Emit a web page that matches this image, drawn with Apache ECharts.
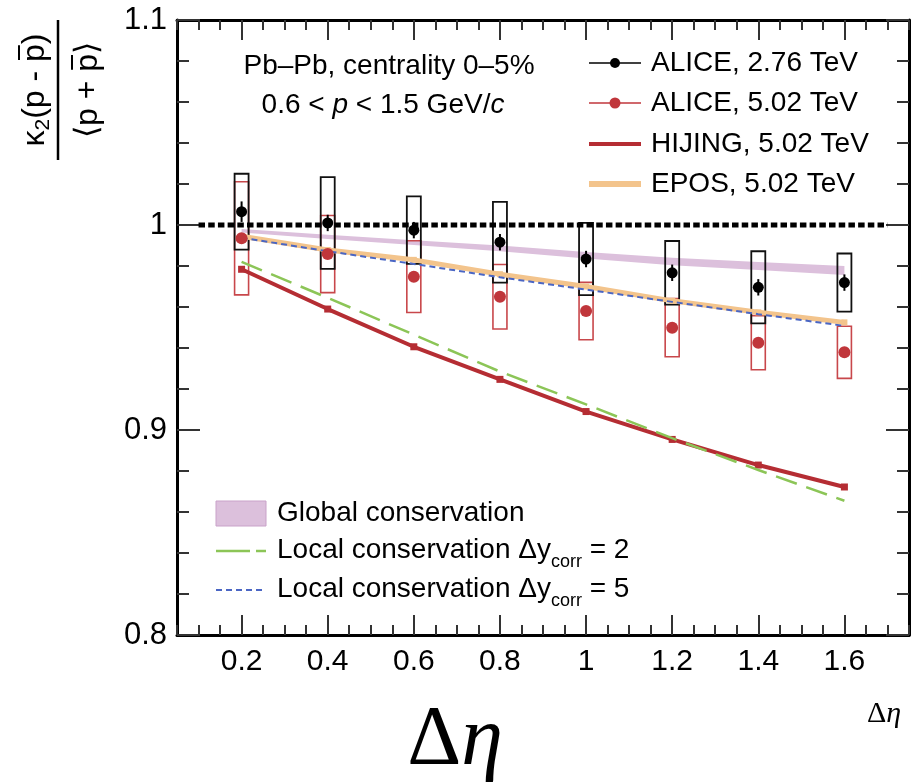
<!DOCTYPE html>
<html>
<head>
<meta charset="utf-8">
<script src="https://cdn.jsdelivr.net/npm/echarts@6/dist/echarts.min.js"></script>
<style>
html, body { margin: 0; padding: 0; background: #fff; }
#chart { width: 915px; height: 783px; }
</style>
</head>
<body>
<div id="chart"></div>
<script>
// Δη bins
const etaBins = [0.2, 0.4, 0.6, 0.8, 1.0, 1.2, 1.4, 1.6]
// ALICE 2.76 TeV: value, stat error, syst (half box height)
const alice276 = [1.0065, 1.0010, 0.9975, 0.9916, 0.9834, 0.9767, 0.9696, 0.9719]
const alice276Stat = [0.005, 0.004, 0.004, 0.004, 0.004, 0.004, 0.004, 0.004]
const alice276Sys = [0.0185, 0.0224, 0.0165, 0.0197, 0.0176, 0.0155, 0.0176, 0.0142]
// ALICE 5.02 TeV
const alice502 = [0.9935, 0.9858, 0.9748, 0.9650, 0.9580, 0.9499, 0.9426, 0.9379]
const alice502Sys = [0.0276, 0.0188, 0.0175, 0.0157, 0.0140, 0.0142, 0.0132, 0.0127]
// models
const hijing = [0.9784, 0.9590, 0.9406, 0.9247, 0.9090, 0.8954, 0.8829, 0.8722]
const epos = [0.9945, 0.9878, 0.9830, 0.9760, 0.9700, 0.9630, 0.9574, 0.9525]
const localDy2 = [0.9820, 0.9645, 0.9465, 0.9285, 0.9125, 0.8960, 0.8805, 0.8655]
const localDy5 = [0.9938, 0.9872, 0.9810, 0.9745, 0.9685, 0.9625, 0.9565, 0.9508]
const globalCons = [0.9972, 0.9942, 0.9914, 0.9886, 0.9852, 0.9822, 0.9800, 0.9778]
const globalHalf = [0.0008, 0.0010, 0.0012, 0.0014, 0.0016, 0.0018, 0.0020, 0.0022]
// y = 1 reference line
const refLineX = [0.1, 1.7]
const refLineY = 1
// tick labels
const xMajorTicks = [0.2, 0.4, 0.6, 0.8, 1, 1.2, 1.4, 1.6]

const FONT = '"Liberation Sans", Arial, sans-serif'
const SERIF = '"Liberation Serif", "DejaVu Serif", serif'
const RED = '#c0363b'
const HIJING_RED = '#b52d33'
const EPOS_ORANGE = '#f3c48c'
const GREEN = '#8cc557'
const BLUE = '#4a66c4'
const PURPLE = '#dcc0dc'
const TXT = 28

const ctx = document.createElement('canvas').getContext('2d')
function textWidth(t, font) {
  ctx.font = font
  return ctx.measureText(t).width
}
// lay out text runs (with sub/overbar) left to right starting at x
function runs(parts, x, y, align) {
  const fonts = parts.map(p => (p.italic ? 'italic ' : '') + p.size + 'px ' + (p.family || FONT))
  const widths = parts.map((p, i) => textWidth(p.t, fonts[i]))
  const total = widths.reduce((a, b) => a + b, 0)
  let cx = align === 'center' ? x - total / 2 : x
  const out = []
  parts.forEach((p, i) => {
    out.push({
      type: 'text', x: cx, y: y + (p.dy || 0), silent: true,
      style: { text: p.t, font: fonts[i], fill: '#000', textAlign: 'left', textVerticalAlign: 'middle' }
    })
    if (p.bar) {
      const by = y - p.size * 0.5
      out.push({ type: 'line', silent: true, shape: { x1: cx + 2, y1: by, x2: cx + widths[i] - 1, y2: by }, style: { stroke: '#000', lineWidth: 2 } })
    }
    cx += widths[i]
  })
  return out
}

function boxSeries(centers, halves, color, lw) {
  return {
    type: 'custom',
    silent: true,
    z: 3,
    data: etaBins.map((x, i) => [x, centers[i] - halves[i], centers[i] + halves[i]]),
    encode: { x: 0, y: [1, 2] },
    renderItem(params, api) {
      const lo = api.coord([api.value(0), api.value(1)])
      const hi = api.coord([api.value(0), api.value(2)])
      return {
        type: 'rect',
        shape: { x: lo[0] - 7, y: hi[1], width: 14, height: lo[1] - hi[1] },
        style: { fill: 'none', stroke: color, lineWidth: lw }
      }
    }
  }
}

const chart = echarts.init(document.getElementById('chart'))

const axisLineStyle = { show: true, lineStyle: { color: '#000', width: 3 } }
const tickStyle = { color: '#333', width: 2 }

const legendY = [63, 103, 144, 184]
const legendText = ['ALICE, 2.76 TeV', 'ALICE, 5.02 TeV', 'HIJING, 5.02 TeV', 'EPOS, 5.02 TeV']

const graphics = [
  // top-right legend
  { type: 'line', shape: { x1: 589, y1: legendY[0], x2: 641, y2: legendY[0] }, style: { stroke: '#000', lineWidth: 1.5 } },
  { type: 'circle', shape: { cx: 615, cy: legendY[0], r: 5 }, style: { fill: '#000' } },
  { type: 'line', shape: { x1: 589, y1: legendY[1], x2: 641, y2: legendY[1] }, style: { stroke: RED, lineWidth: 1.5 } },
  { type: 'circle', shape: { cx: 615, cy: legendY[1], r: 5.5 }, style: { fill: RED } },
  { type: 'line', shape: { x1: 589, y1: legendY[2], x2: 641, y2: legendY[2] }, style: { stroke: HIJING_RED, lineWidth: 4 } },
  { type: 'line', shape: { x1: 589, y1: legendY[3], x2: 641, y2: legendY[3] }, style: { stroke: EPOS_ORANGE, lineWidth: 6 } },
  ...legendText.map((t, i) => ({
    type: 'text', x: 651, y: legendY[i],
    style: { text: t, font: TXT + 'px ' + FONT, fill: '#000', textAlign: 'left', textVerticalAlign: 'middle' }
  })),
  // top-left label
  { type: 'text', x: 389, y: 66, style: { text: 'Pb\u2013Pb, centrality 0\u20135%', font: TXT + 'px ' + FONT, fill: '#000', textAlign: 'center', textVerticalAlign: 'middle' } },
  ...runs([
    { t: '0.6 < ', size: TXT }, { t: 'p', size: TXT, italic: true },
    { t: ' < 1.5 GeV/', size: TXT }, { t: 'c', size: TXT, italic: true }
  ], 383, 105, 'center'),
  // bottom-left legend
  { type: 'rect', shape: { x: 216, y: 501, width: 50, height: 25 }, style: { fill: PURPLE, stroke: '#c9a2c9', lineWidth: 1 } },
  { type: 'text', x: 277, y: 513, style: { text: 'Global conservation', font: TXT + 'px ' + FONT, fill: '#000', textAlign: 'left', textVerticalAlign: 'middle' } },
  { type: 'line', shape: { x1: 216, y1: 551, x2: 266, y2: 551 }, style: { stroke: GREEN, lineWidth: 2.5, lineDash: [34, 6] } },
  ...runs([
    { t: 'Local conservation \u0394y', size: TXT }, { t: 'corr', size: 18, dy: 12 }, { t: ' = 2', size: TXT }
  ], 277, 550),
  { type: 'line', shape: { x1: 216, y1: 590, x2: 266, y2: 590 }, style: { stroke: BLUE, lineWidth: 2, lineDash: [6, 4] } },
  ...runs([
    { t: 'Local conservation \u0394y', size: TXT }, { t: 'corr', size: 18, dy: 12 }, { t: ' = 5', size: TXT }
  ], 277, 589),
  // y axis title (rotated fraction)
  {
    type: 'group', x: 58, y: 90, rotation: Math.PI / 2,
    children: [
      ...runs([
        { t: '\u03ba', size: 32 }, { t: '2', size: 21, dy: 8 }, { t: '(p - ', size: 32 },
        { t: 'p', size: 32, bar: true }, { t: ')', size: 32 }
      ], 0, -23, 'center'),
      { type: 'line', shape: { x1: -70, y1: 0, x2: 70, y2: 0 }, style: { stroke: '#000', lineWidth: 2.5 } },
      ...runs([
        { t: '\u27e8p + ', size: 32 }, { t: 'p', size: 32, bar: true }, { t: '\u27e9', size: 32 }
      ], 0, 30, 'center')
    ]
  },
  // x axis titles
  { type: 'text', x: 884, y: 714, style: { rich: { d: { fontFamily: SERIF, fontSize: 30 }, e: { fontFamily: SERIF, fontSize: 30, fontStyle: 'italic' } }, text: '{d|\u0394}{e|\u03b7}', fill: '#000', textAlign: 'center', textVerticalAlign: 'middle' } },
  { type: 'text', x: 455, y: 742, style: { rich: { d: { fontFamily: SERIF, fontSize: 84 }, e: { fontFamily: SERIF, fontSize: 84, fontStyle: 'italic' } }, text: '{d|\u0394}{e|\u03b7}', fill: '#000', textAlign: 'center', textVerticalAlign: 'middle' } }
]

chart.setOption({
  animation: false,
  backgroundColor: '#fff',
  grid: { left: 177, right: 6, top: 20, bottom: 148, containLabel: false },
  xAxis: [
    {
      type: 'value', min: 0.05, max: 1.75, position: 'bottom',
      axisLine: axisLineStyle,
      axisTick: { inside: true, length: 20, customValues: xMajorTicks, lineStyle: tickStyle },
      axisLabel: { customValues: xMajorTicks, fontSize: 30, fontFamily: FONT, color: '#000', margin: 12 },
      splitLine: { show: false }
    },
    {
      type: 'value', min: 0.05, max: 1.75, interval: 0.05, position: 'bottom',
      axisLine: { show: false },
      axisTick: { inside: true, length: 10, lineStyle: tickStyle },
      axisLabel: { show: false }, splitLine: { show: false }
    },
    {
      type: 'value', min: 0.05, max: 1.75, position: 'top',
      axisLine: axisLineStyle,
      axisTick: { inside: true, length: 20, customValues: xMajorTicks, lineStyle: tickStyle },
      axisLabel: { show: false }, splitLine: { show: false }
    },
    {
      type: 'value', min: 0.05, max: 1.75, interval: 0.05, position: 'top',
      axisLine: { show: false },
      axisTick: { inside: true, length: 10, lineStyle: tickStyle },
      axisLabel: { show: false }, splitLine: { show: false }
    }
  ],
  yAxis: [
    {
      type: 'value', min: 0.8, max: 1.1, interval: 0.1, position: 'left',
      axisLine: axisLineStyle,
      axisTick: { inside: true, length: 23, lineStyle: tickStyle },
      minorTick: { show: true, splitNumber: 5, length: 12, lineStyle: tickStyle },
      axisLabel: { fontSize: 31, fontFamily: FONT, color: '#000', margin: 10 },
      splitLine: { show: false }, minorSplitLine: { show: false }
    },
    {
      type: 'value', min: 0.8, max: 1.1, interval: 0.1, position: 'right',
      axisLine: axisLineStyle,
      axisTick: { inside: true, length: 23, lineStyle: tickStyle },
      minorTick: { show: true, splitNumber: 5, length: 12, lineStyle: tickStyle },
      axisLabel: { show: false },
      splitLine: { show: false }, minorSplitLine: { show: false }
    }
  ],
  series: [
    // global conservation band
    {
      type: 'custom', silent: true, z: 1,
      data: [0],
      renderItem(params, api) {
        if (params.dataIndex !== 0) return null
        const upper = etaBins.map((x, i) => api.coord([x, globalCons[i] + globalHalf[i]]))
        const lower = etaBins.map((x, i) => api.coord([x, globalCons[i] - globalHalf[i]])).reverse()
        return { type: 'polygon', shape: { points: upper.concat(lower) }, style: { fill: PURPLE } }
      }
    },
    boxSeries(alice502, alice502Sys, '#c8474b', 1.6),
    boxSeries(alice276, alice276Sys, '#111', 1.8),
    {
      type: 'line', name: 'EPOS', z: 4,
      data: etaBins.map((x, i) => [x, epos[i]]),
      lineStyle: { color: EPOS_ORANGE, width: 5 },
      symbol: 'rect', symbolSize: 6, itemStyle: { color: EPOS_ORANGE }
    },
    {
      type: 'line', name: 'Local Dy=5', z: 5,
      data: etaBins.map((x, i) => [x, localDy5[i]]),
      lineStyle: { color: BLUE, width: 2, type: [6, 4] },
      symbol: 'none'
    },
    {
      type: 'line', name: 'HIJING', z: 5,
      data: etaBins.map((x, i) => [x, hijing[i]]),
      lineStyle: { color: HIJING_RED, width: 4 },
      symbol: 'rect', symbolSize: 7, itemStyle: { color: HIJING_RED }
    },
    {
      type: 'line', name: 'Local Dy=2', z: 6,
      data: etaBins.map((x, i) => [x, localDy2[i]]),
      lineStyle: { color: GREEN, width: 2.5, type: [22, 10] },
      symbol: 'none'
    },
    {
      type: 'line', name: 'ref', z: 6,
      data: refLineX.map(x => [x, refLineY]),
      lineStyle: { color: '#000', width: 5, type: [6.5, 3.2] },
      symbol: 'none'
    },
    // stat errors ALICE 2.76
    {
      type: 'custom', silent: true, z: 7,
      data: etaBins.map((x, i) => [x, alice276[i] - alice276Stat[i], alice276[i] + alice276Stat[i]]),
      encode: { x: 0, y: [1, 2] },
      renderItem(params, api) {
        const lo = api.coord([api.value(0), api.value(1)])
        const hi = api.coord([api.value(0), api.value(2)])
        return { type: 'line', shape: { x1: lo[0], y1: lo[1], x2: hi[0], y2: hi[1] }, style: { stroke: '#000', lineWidth: 2 } }
      }
    },
    {
      type: 'scatter', name: 'ALICE 5.02', z: 8,
      data: etaBins.map((x, i) => [x, alice502[i]]),
      symbol: 'circle', symbolSize: 12, itemStyle: { color: RED, opacity: 1 }
    },
    {
      type: 'scatter', name: 'ALICE 2.76', z: 8,
      data: etaBins.map((x, i) => [x, alice276[i]]),
      symbol: 'circle', symbolSize: 11, itemStyle: { color: '#000', opacity: 1 }
    }
  ],
  graphic: graphics
})
</script>
</body>
</html>
